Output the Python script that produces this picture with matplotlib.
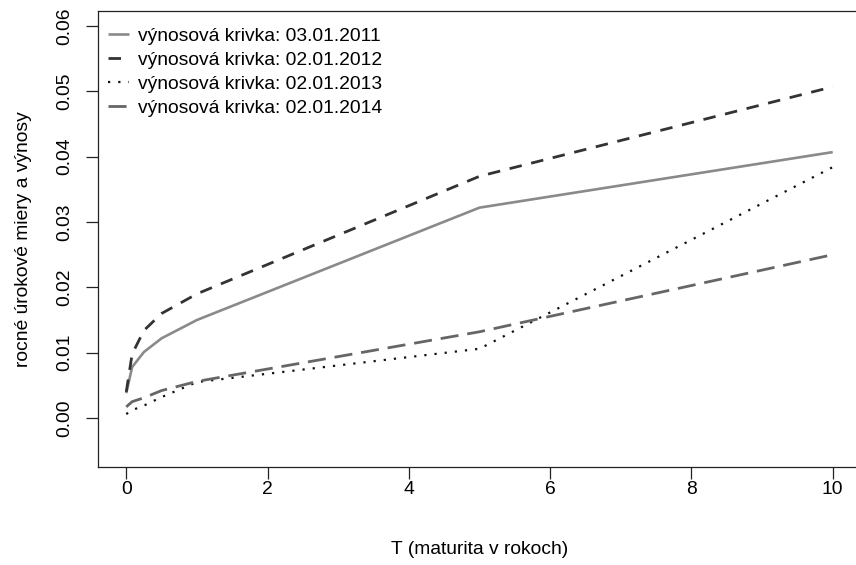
import matplotlib
matplotlib.use("Agg")
import matplotlib.pyplot as plt

# maturities in years and annual rates for each curve date
maturities = [0.0, 1/12, 0.25, 0.5, 1.0, 5.0, 10.0]
curve_2011 = [0.0038, 0.0078, 0.0101, 0.0122, 0.0150, 0.0322, 0.0407]
curve_2012 = [0.0040, 0.0098, 0.0134, 0.0160, 0.0190, 0.0370, 0.0507]
curve_2013 = [0.0006, 0.0012, 0.0019, 0.0032, 0.0055, 0.0106, 0.0384]
curve_2014 = [0.0017, 0.0025, 0.0031, 0.0042, 0.0056, 0.0132, 0.0250]
labels = ["výnosová krivka: 03.01.2011", "výnosová krivka: 02.01.2012",
          "výnosová krivka: 02.01.2013", "výnosová krivka: 02.01.2014"]
x_ticks = [0, 2, 4, 6, 8, 10]
y_ticks = [0.00, 0.01, 0.02, 0.03, 0.04, 0.05, 0.06]

plt.rcParams['font.family'] = ['Liberation Sans', 'DejaVu Sans']
FS = 13.9

W, H = 856, 565
fig = plt.figure(figsize=(W / 100, H / 100), dpi=100)
ax = fig.add_axes([98 / W, (H - 467) / H, (861 - 98) / W, (467 - 11) / H])

ax.plot(maturities, curve_2011, color="#8a8a8a", lw=1.9, solid_capstyle="butt",
        label=labels[0])
ax.plot(maturities, curve_2012, color="#333333", lw=2.0, dashes=(4.5, 3.5),
        label=labels[1])
ax.plot(maturities, curve_2013, color="#111111", lw=1.6, dashes=(1, 3.6),
        label=labels[2])
ax.plot(maturities, curve_2014, color="#666666", lw=2.0, dashes=(6.5, 3.2),
        label=labels[3])

ax.set_xlim(-0.4, 10.4)
ax.set_ylim(-0.0075, 0.0623)
ax.set_xticks(x_ticks)
ax.set_xticklabels([str(v) for v in x_ticks])
ax.set_yticks(y_ticks)
ax.set_yticklabels([f"{v:.2f}" for v in y_ticks], rotation=90, va="center")
ax.tick_params(direction="out", length=8.5, width=0.9, labelsize=FS, color="#222222")
ax.tick_params(axis="x", pad=1.5)
ax.tick_params(axis="y", pad=9)
for s in ax.spines.values():
    s.set_linewidth(0.9)
    s.set_color("#222222")

ax.set_xlabel("T (maturita v rokoch)", fontsize=FS, labelpad=31)
ax.set_ylabel("rocné úrokové miery a výnosy", fontsize=FS, labelpad=18)

ax.legend(loc="upper left", bbox_to_anchor=(-0.008, 1.0), frameon=False,
          fontsize=FS, handlelength=1.05, handletextpad=0.5, labelspacing=0.33,
          borderaxespad=0.55, borderpad=0.3)

fig.savefig("out.png", dpi=100)
